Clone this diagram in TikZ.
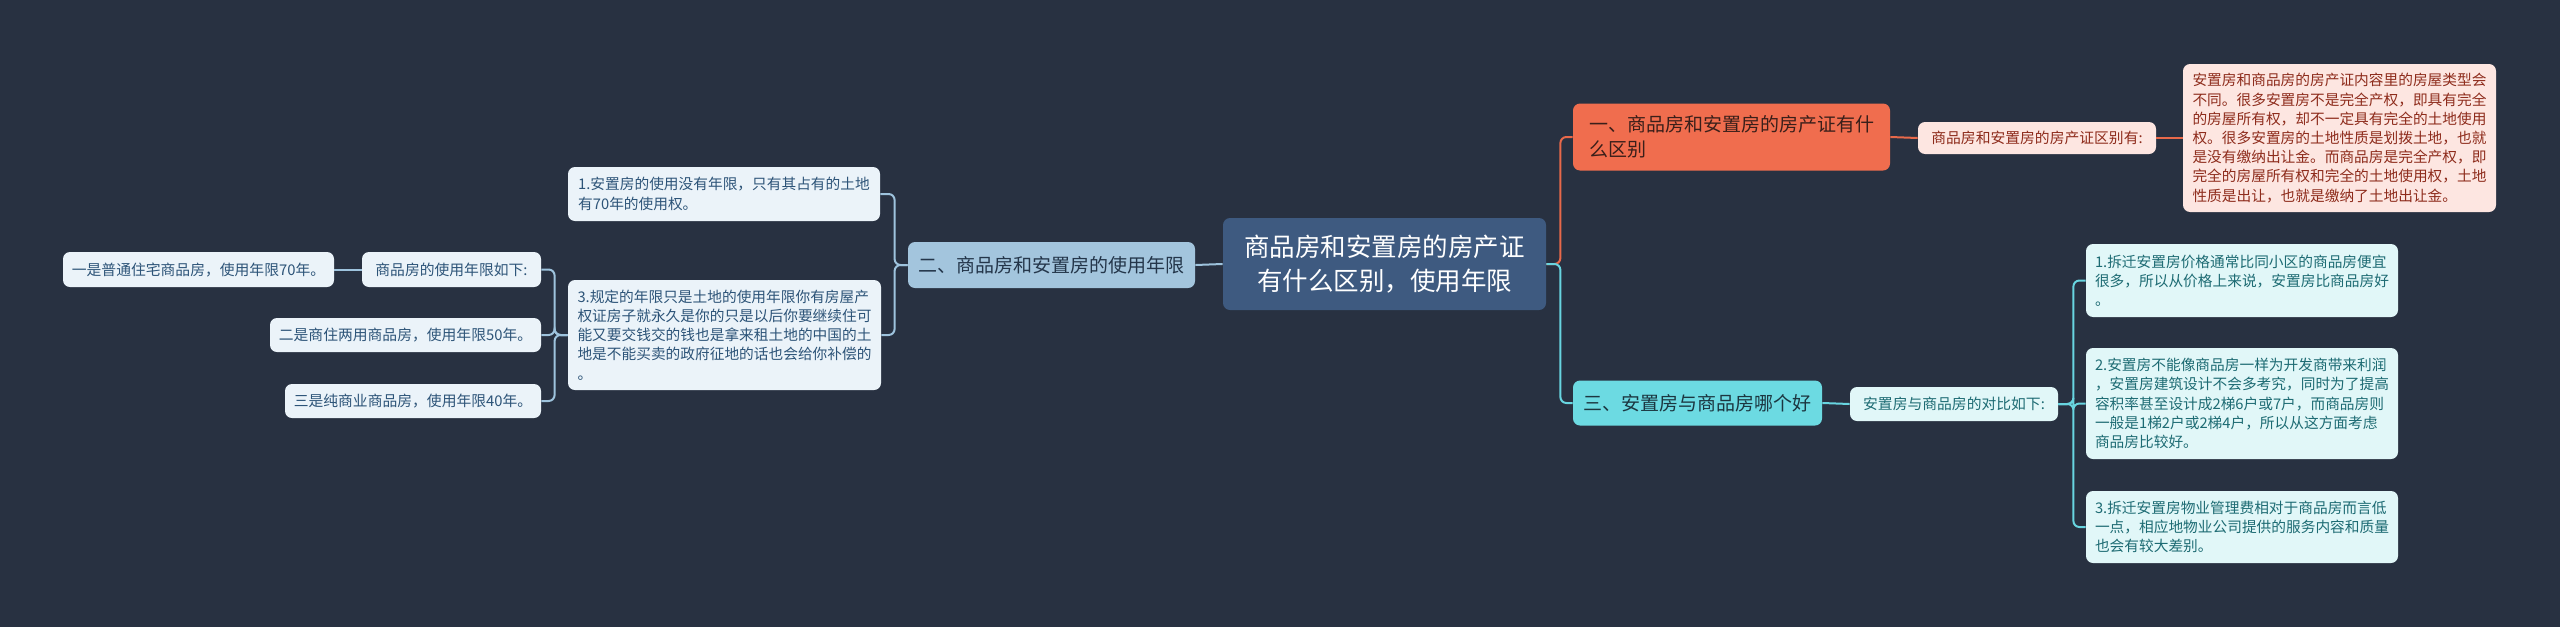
\documentclass[tikz,border=0pt]{standalone}
\usepackage{fontspec}
\newfontfamily\cjk{Noto Sans CJK SC}
\definecolor{bgnavy}{HTML}{283141}
\definecolor{rootblue}{HTML}{3E5A80}
\definecolor{coral}{HTML}{F06D4E}
\definecolor{coralline}{HTML}{E8694A}
\definecolor{coralpale}{HTML}{FDE6E1}
\definecolor{coraltext}{HTML}{8E2C1C}
\definecolor{coraldark}{HTML}{3A1F1A}
\definecolor{aqua}{HTML}{6CDAE2}
\definecolor{aqualine}{HTML}{68D5E0}
\definecolor{aquapale}{HTML}{E1F7F8}
\definecolor{aquatext}{HTML}{1D6B73}
\definecolor{aquadark}{HTML}{1C3640}
\definecolor{sky}{HTML}{A3C5DD}
\definecolor{skyline}{HTML}{9EC3DD}
\definecolor{skypale}{HTML}{EBF3F9}
\definecolor{skytext}{HTML}{2D5478}
\definecolor{skydark}{HTML}{24364A}

\begin{document}
\begin{tikzpicture}[x=0.5pt, y=-0.5pt,
  card/.style={rounded corners=3.5pt, inner sep=0pt, align=left},
  rootbox/.style={card, fill=rootblue, text=white, align=center,
    font=\cjk\fontsize{12.75pt}{17pt}\selectfont},
  branchbox/.style={card, font=\cjk\fontsize{9.5pt}{12.5pt}\selectfont},
  subbox/.style={card, font=\cjk\fontsize{7.4pt}{9.5pt}\selectfont},
  leafbox/.style={card, font=\cjk\fontsize{7.35pt}{9.6pt}\selectfont},
  link/.style={line width=1pt, rounded corners=3pt}]
  % background and frame
  \fill[bgnavy] (0,0) rectangle (2560,627);
  \useasboundingbox (0,0) rectangle (2560,627);

  % centre
  \node[rootbox, minimum width=161.5pt, minimum height=46pt] (root) at (1384.5,264)
    {商品房和安置房的房产证\\有什么区别，使用年限};

  % branch one
  \node[branchbox, fill=coral, text=coraldark, minimum width=158.5pt, minimum height=33.5pt] (one) at (1731.5,137)
    {一、商品房和安置房的房产证有什\\么区别};
  \node[subbox, fill=coralpale, text=coraltext, minimum width=119pt, minimum height=16pt] (oneSub) at (2037,138)
    {商品房和安置房的房产证区别有:};
  \node[leafbox, fill=coralpale, text=coraltext, minimum width=156.5pt, minimum height=74pt] (oneLeaf) at (2339.5,138)
    {安置房和商品房的房产证内容里的房屋类型会\\不同。很多安置房不是完全产权，即具有完全\\的房屋所有权，却不一定具有完全的土地使用\\权。很多安置房的土地性质是划拨土地，也就\\是没有缴纳出让金。而商品房是完全产权，即\\完全的房屋所有权和完全的土地使用权，土地\\性质是出让，也就是缴纳了土地出让金。};

  % branch three
  \node[branchbox, fill=aqua, text=aquadark, minimum width=124.5pt, minimum height=22.5pt] (three) at (1697.5,403)
    {三、安置房与商品房哪个好};
  \node[subbox, fill=aquapale, text=aquatext, minimum width=104pt, minimum height=17pt] (threeSub) at (1954,404)
    {安置房与商品房的对比如下:};
  \node[leafbox, fill=aquapale, text=aquatext, minimum width=156pt, minimum height=36.5pt] (threeA) at (2242,280.5)
    {1.拆迁安置房价格通常比同小区的商品房便宜\\很多，所以从价格上来说，安置房比商品房好\\。};
  \node[leafbox, fill=aquapale, text=aquatext, minimum width=156pt, minimum height=55.5pt] (threeB) at (2242,403.5)
    {2.安置房不能像商品房一样为开发商带来利润\\，安置房建筑设计不会多考究，同时为了提高\\容积率甚至设计成2梯6户或7户，而商品房则\\一般是1梯2户或2梯4户，所以从这方面考虑\\商品房比较好。};
  \node[leafbox, fill=aquapale, text=aquatext, minimum width=156pt, minimum height=36pt] (threeC) at (2242,527)
    {3.拆迁安置房物业管理费相对于商品房而言低\\一点，相应地物业公司提供的服务内容和质量\\也会有较大差别。};

  % branch two
  \node[branchbox, fill=sky, text=skydark, minimum width=143.5pt, minimum height=23pt] (two) at (1051.5,265)
    {二、商品房和安置房的使用年限};
  \node[leafbox, fill=skypale, text=skytext, minimum width=156pt, minimum height=27pt] (twoA) at (724,194)
    {1.安置房的使用没有年限，只有其占有的土地\\有70年的使用权。};
  \node[leafbox, fill=skypale, text=skytext, minimum width=156.5pt, minimum height=55pt] (twoC) at (724.5,335)
    {3.规定的年限只是土地的使用年限你有房屋产\\权证房子就永久是你的只是以后你要继续住可\\能又要交钱交的钱也是拿来租土地的中国的土\\地是不能买卖的政府征地的话也会给你补偿的\\。};
  \node[subbox, fill=skypale, text=skytext, minimum width=89.5pt, minimum height=17.5pt] (twoSub) at (451.5,269.5)
    {商品房的使用年限如下:};
  \node[subbox, fill=skypale, text=skytext, minimum width=135.5pt, minimum height=17.5pt] (yearA) at (198.5,269.5)
    {一是普通住宅商品房，使用年限70年。};
  \node[subbox, fill=skypale, text=skytext, minimum width=135.5pt, minimum height=17pt] (yearB) at (405.5,335)
    {二是商住两用商品房，使用年限50年。};
  \node[subbox, fill=skypale, text=skytext, minimum width=128pt, minimum height=17pt] (yearC) at (413,401)
    {三是纯商业商品房，使用年限40年。};

  % connectors, right side
  \draw[link, coralline] (root.east) -- ++(14,0) |- (one.west);
  \draw[link, aqualine] (root.east) -- ++(14,0) |- (three.west);
  \draw[link, coralline] (one.east) -- (oneSub.west);
  \draw[link, coralline] (oneSub.east) -- (oneLeaf.west);
  \draw[link, aqualine] (three.east) -- (threeSub.west);
  \foreach \leaf in {threeA, threeB, threeC}
    \draw[link, aqualine] (threeSub.east) -- ++(15,0) |- (\leaf.west);

  % connectors, left side
  \draw[link, skyline] (root.west) -- (two.east);
  \foreach \leaf in {twoA, twoC}
    \draw[link, skyline] (two.west) -- ++(-13,0) |- (\leaf.east);
  \foreach \leaf in {twoSub, yearB, yearC}
    \draw[link, skyline] (twoC.west) -- ++(-13,0) |- (\leaf.east);
  \draw[link, skyline] (twoSub.west) -- (yearA.east);
\end{tikzpicture}
\end{document}
